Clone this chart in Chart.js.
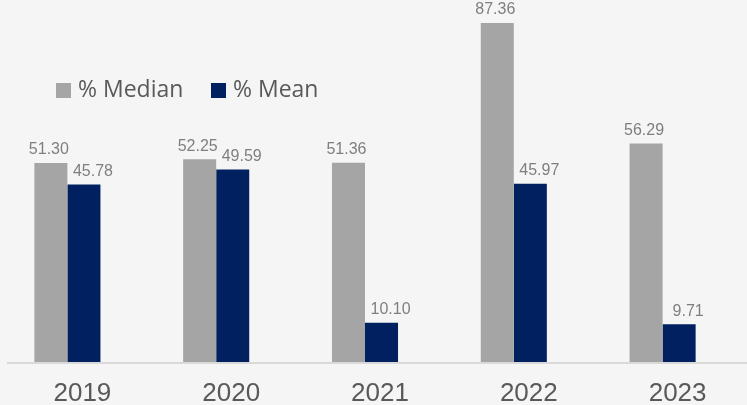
<!DOCTYPE html>
<html>
<head>
<meta charset="utf-8">
<script src="https://cdn.jsdelivr.net/npm/chart.js@4.4.1/dist/chart.umd.min.js"></script>
<style>
  html, body { margin: 0; padding: 0; background: #f5f5f5; overflow: hidden; }
  #wrap { position: relative; width: 747px; height: 405px; overflow: hidden; }
  #box { position: absolute; left: -7px; top: 0; width: 754px; height: 405px; }
  .legend { position: absolute; top: 74px; font-family: "Open Sans", sans-serif; font-size: 23px; color: #595959; line-height: 28px; white-space: nowrap; }
  .legend span.sw { display: inline-block; width: 15px; height: 15px; margin-right: 7px; vertical-align: -1px; }
</style>
</head>
<body>
<div id="wrap">
  <div id="box"><canvas id="medianChart"></canvas></div>
  <div class="legend" style="left:56px"><span class="sw" style="background:#a5a5a5"></span>% Median</div>
  <div class="legend" style="left:211px"><span class="sw" style="background:#002060"></span>% Mean</div>
</div>
<script>
const years = ['2019', '2020', '2021', '2022', '2023'];
const medianValues = [51.30, 52.25, 51.36, 87.36, 56.29];
const meanValues = [45.78, 49.59, 10.10, 45.97, 9.71];

// value labels above each bar
const barLabels = {
  id: 'barLabels',
  afterDatasetsDraw(chart) {
    const ctx = chart.ctx;
    ctx.save();
    ctx.font = '16px "Liberation Sans", Arial, sans-serif';
    ctx.fillStyle = '#7f7f7f';
    ctx.textAlign = 'center';
    ctx.textBaseline = 'bottom';
    chart.data.datasets.forEach((ds, i) => {
      const shift = i === 1 ? 9 : -2;
      chart.getDatasetMeta(i).data.forEach((bar, j) => {
        ctx.fillText(ds.data[j].toFixed(2), bar.x + shift, bar.y - 5);
      });
    });
    ctx.restore();
  }
};

// base line under the bars
const baseLine = {
  id: 'baseLine',
  afterDraw(chart) {
    const ctx = chart.ctx;
    const y = chart.chartArea.bottom;
    ctx.save();
    ctx.strokeStyle = '#d9d9d9';
    ctx.lineWidth = 2;
    ctx.beginPath();
    ctx.moveTo(14, y + 1);
    ctx.lineTo(chart.width, y + 1);
    ctx.stroke();
    ctx.restore();
  }
};

new Chart('medianChart', {
  type: 'bar',
  data: {
    labels: years,
    datasets: [
      { label: '% Median', data: medianValues, backgroundColor: '#a5a5a5' },
      { label: '% Mean', data: meanValues, backgroundColor: '#002060' }
    ]
  },
  options: {
    responsive: true,
    maintainAspectRatio: false,
    animation: false,
    layout: { padding: { top: 0, right: 10, bottom: 0, left: 0 } },
    datasets: { bar: { categoryPercentage: 0.444, barPercentage: 1.0 } },
    plugins: {
      legend: { display: false },
      tooltip: { enabled: false }
    },
    scales: {
      x: {
        grid: { display: false },
        border: { display: false },
        afterFit(scale) { scale.height = 43; },
        ticks: {
          color: '#595959',
          font: { family: '"Liberation Sans", Arial, sans-serif', size: 26, lineHeight: 1 },
          padding: 11,
          labelOffset: 15
        }
      },
      y: {
        display: false,
        min: 0,
        max: 93.3
      }
    }
  },
  plugins: [barLabels, baseLine]
});
</script>
</body>
</html>
